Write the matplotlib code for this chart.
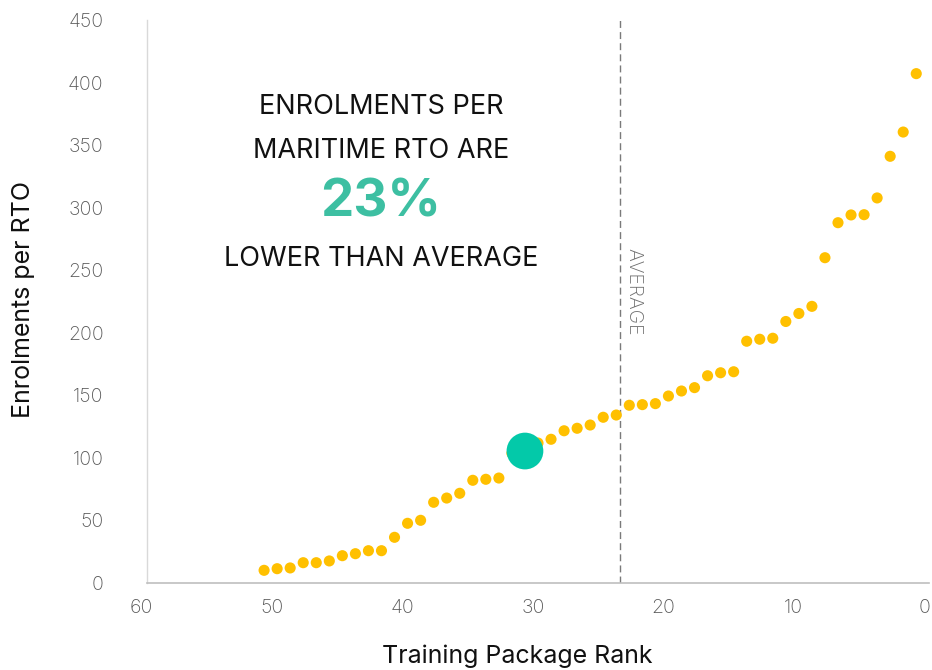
import matplotlib
matplotlib.use("Agg")
import matplotlib.pyplot as plt
import matplotlib.transforms as mtransforms

plt.rcParams['font.family'] = ['Inter', 'DejaVu Sans']

# Training packages ranked by enrolments per RTO (rank 51 = lowest, 1 = highest)
ranks = list(range(51, 0, -1))
enrolments_per_rto = [
    9.9, 11.2, 11.8, 16.0, 16.0, 17.4, 21.6, 23.2, 25.6, 25.6,
    36.3, 47.5, 49.9, 64.3, 67.7, 71.5, 81.9, 82.7, 83.7, 103.5,
    105.3, 111.7, 114.7, 121.5, 123.5, 126.1, 132.3, 134.1, 141.9, 142.4,
    143.2, 149.3, 153.3, 156.0, 165.5, 167.9, 168.7, 193.1, 194.7, 195.5,
    208.9, 215.3, 221.0, 259.9, 287.9, 294.1, 294.3, 307.7, 341.0, 360.4,
    407.1,
]

# Maritime training package
maritime_rank = 31
maritime_value = 105.3

# Rank position of the overall average
average_rank = 23.7

x_ticks = [60, 50, 40, 30, 20, 10, 0]
y_ticks = [0, 50, 100, 150, 200, 250, 300, 350, 400, 450]

YELLOW = '#FFC000'
TEAL = '#03C9A9'
TEAL_TEXT = '#3DBFA2'
TICK_GREY = '#595959'

fig = plt.figure(figsize=(9.32, 6.70), dpi=100)
ax = fig.add_axes([146.7 / 932, 87.3 / 670, 782.6 / 932, 562.7 / 670])

ax.scatter(ranks, enrolments_per_rto, s=64, color=YELLOW, edgecolors='none', zorder=3)
ax.scatter([maritime_rank], [maritime_value], s=700, color=TEAL, edgecolors='none', zorder=4)

ax.axvline(average_rank, color='#7a7a7a', linewidth=1.0, linestyle=(0, (5, 3)), zorder=2)
ax.text(average_rank - 1.05, 268, 'AVERAGE', rotation=-90, ha='center', va='top',
        fontsize=14, color='#6e6e6e', fontweight='light')

ax.set_xlim(60, 0)
ax.set_ylim(0, 450)
ax.set_xticks(x_ticks)
ax.set_yticks(y_ticks)

for side in ('top', 'right'):
    ax.spines[side].set_visible(False)
ax.spines['left'].set_color('#d9d9d9')
ax.spines['bottom'].set_color('#bfbfbf')
ax.spines['left'].set_linewidth(1.0)
ax.spines['bottom'].set_linewidth(1.2)

ax.tick_params(axis='both', length=0, labelsize=14, labelcolor=TICK_GREY)
ax.tick_params(axis='y', pad=31)
ax.tick_params(axis='x', pad=12)
for lab in ax.get_yticklabels() + ax.get_xticklabels():
    lab.set_fontweight('light')

shift = mtransforms.ScaledTranslation(-5 / 100, 0, fig.dpi_scale_trans)
for lab in ax.get_xticklabels():
    lab.set_transform(lab.get_transform() + shift)

fig.text(24 / 932, 1 - 300 / 670, 'Enrolments per RTO', rotation=90,
         ha='center', va='center', fontsize=18, color='#111111')
fig.text(517 / 932, 1 - 656 / 670, 'Training Package Rank',
         ha='center', va='center', fontsize=18, color='#111111')

cx = (381 - 146.7) / 782.6
ax.text(cx, (582.7 - 107) / 562.7, 'ENROLMENTS PER', transform=ax.transAxes,
        ha='center', va='center', fontsize=19.5, color='#111111')
ax.text(cx, (582.7 - 151) / 562.7, 'MARITIME RTO ARE', transform=ax.transAxes,
        ha='center', va='center', fontsize=19.5, color='#111111')
ax.text(cx, (582.7 - 203) / 562.7, '23%', transform=ax.transAxes,
        ha='center', va='center', fontsize=38, fontweight='bold', color=TEAL_TEXT)
ax.text(cx, (582.7 - 259) / 562.7, 'LOWER THAN AVERAGE', transform=ax.transAxes,
        ha='center', va='center', fontsize=19.5, color='#111111')

fig.savefig('out.png', dpi=100)
